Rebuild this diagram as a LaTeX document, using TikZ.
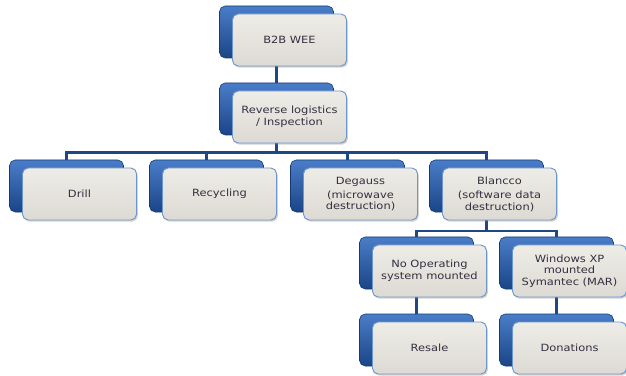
\documentclass[tikz,border=0pt]{standalone}
\usepackage{fontspec}
\newfontfamily\boxfont[FakeStretch=1.15]{DejaVu Sans}
\usetikzlibrary{shadows,calc}
\definecolor{backtop}{HTML}{4A7DC8}
\definecolor{backbot}{HTML}{1A4587}
\definecolor{backedge}{HTML}{153A72}
\definecolor{fronttop}{HTML}{EEECE6}
\definecolor{frontbot}{HTML}{DCDAD3}
\definecolor{frontedge}{HTML}{6C96CF}
\definecolor{txt}{HTML}{352F40}
\definecolor{connblue}{HTML}{1E4884}
\tikzset{
  backbox/.style={rounded corners=0.17cm, top color=backtop, bottom color=backbot,
    draw=backedge, line width=0.5pt, minimum width=3.42cm, minimum height=1.56cm, inner sep=0pt},
  frontbox/.style={rounded corners=0.17cm, top color=fronttop, bottom color=frontbot,
    draw=frontedge, line width=0.8pt, minimum width=3.42cm, minimum height=1.56cm, inner sep=0pt,
    drop shadow={shadow xshift=0.04cm, shadow yshift=-0.05cm, opacity=0.35},
    text=txt, align=center, font=\boxfont\fontsize{8.5pt}{10pt}\selectfont},
  conn/.style={draw=connblue, line width=1.9pt}
}
\begin{document}
\begin{tikzpicture}[x=0.03cm, y=-0.03cm]
\useasboundingbox (0,0) rectangle (626,376);
\fill[white] (0,0) rectangle (626,376);
\coordinate (bus1) at (0,152.5);
\coordinate (bus2) at (0,231);
% back boxes
\node[backbox] (b2bB) at (276.5,32) {};
\node[backbox] (revB) at (276.5,109) {};
\node[backbox] (drillB) at (66.5,186) {};
\node[backbox] (recB) at (206.5,186) {};
\node[backbox] (degB) at (347.5,186) {};
\node[backbox] (blaB) at (486.5,186) {};
\node[backbox] (noosB) at (416.5,263) {};
\node[backbox] (winB) at (556.5,263) {};
\node[backbox] (resB) at (416.5,340) {};
\node[backbox] (donB) at (556.5,340) {};
% connectors
\draw[conn] (b2bB.south) -- (revB.north);
\draw[conn] (revB.south) -- (revB.south |- bus1) -| (drillB.north);
\draw[conn] (revB.south |- bus1) -| (recB.north);
\draw[conn] (revB.south |- bus1) -| (degB.north);
\draw[conn] (revB.south |- bus1) -| (blaB.north);
\draw[conn] (blaB.south) -- (blaB.south |- bus2) -| (noosB.north);
\draw[conn] (blaB.south |- bus2) -| (winB.north);
\draw[conn] (noosB.south) -- (resB.north);
\draw[conn] (winB.south) -- (donB.north);
% front boxes
\node[frontbox] (b2b) at (289.5,40) {B2B WEE};
\node[frontbox] (rev) at (289.5,117) {Reverse logistics\\/ Inspection};
\node[frontbox] (drill) at (79.5,194) {Drill};
\node[frontbox] (rec) at (219.5,194) {Recycling};
\node[frontbox] (deg) at (360.5,194) {Degauss\\[2pt](microwave\\destruction)};
\node[frontbox] (bla) at (499.5,194) {Blancco\\[2pt](software data\\destruction)};
\node[frontbox] (noos) at (429.5,271) {No Operating\\system mounted};
\node[frontbox] (win) at (569.5,271) {Windows XP\\mounted\\Symantec (MAR)};
\node[frontbox] (res) at (429.5,348) {Resale};
\node[frontbox] (don) at (569.5,348) {Donations};
\end{tikzpicture}
\end{document}
